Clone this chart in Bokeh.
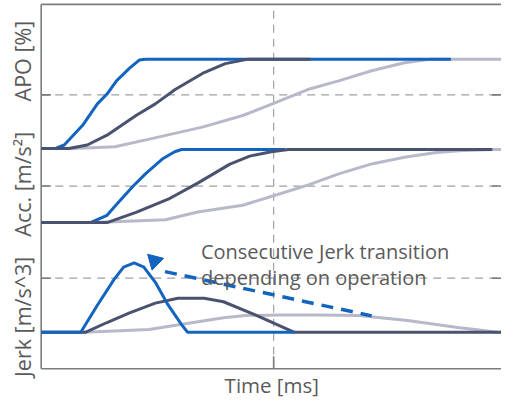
import math
from bokeh.plotting import figure
from bokeh.models import Range1d
from bokeh.core.properties import value
from bokeh.embed import file_html
from bokeh.resources import INLINE

# ---------------- data (time in % of window, values per panel) ----------------
# APO [%]
t_apo_blue = [0, 3, 5, 9, 12.2, 14.3, 16.4, 19.2, 21.3, 22.7, 89]
apo_blue = [0, 0, 4, 26, 50, 61, 76, 90, 99, 100, 100]
t_apo_dark = [0, 6, 10, 14.3, 20.6, 24.8, 29.1, 35.4, 40, 45, 58.5]
apo_dark = [0, 0, 4, 15, 37, 50, 66, 85, 95, 100, 100]
t_apo_gray = [0, 7, 16, 23, 35, 43.8, 50.5, 57.9, 64.8, 71.8, 78.9, 84.4, 100]
apo_gray = [0, 0, 2, 10, 24, 37, 50.5, 66, 76, 87, 96, 100, 100]

# Acc. [m/s^2] (relative %)
t_acc_blue = [0, 10.7, 14.3, 16.4, 20, 22.7, 26.3, 29, 30.5, 53]
acc_blue = [0, 0, 10, 25, 50, 67, 87, 97, 100, 100]
t_acc_dark = [0, 14.3, 20.6, 27.6, 34, 41, 45.3, 50, 53.7, 98]
acc_dark = [0, 0, 14, 32, 54, 80, 91, 97, 100, 100]
t_acc_gray = [0, 11.6, 27, 34, 43.8, 50.5, 57.9, 64.8, 71.8, 78.9, 85.9, 91.6, 98.5, 100]
acc_gray = [0, 0, 4, 14.5, 23.7, 36.8, 51.3, 67.1, 80.3, 89.5, 96, 98.7, 100, 100]

# Jerk [m/s^3]
t_jerk_blue = [0, 8.6, 12.2, 15.8, 17.9, 20.2, 22.3, 24.8, 27.6, 30.5, 31.8, 55]
jerk_blue = [0, 0, 3.9, 7.6, 9.4, 10, 9.4, 7.2, 3.9, 1.1, 0, 0]
t_jerk_dark = [0, 9.7, 14.3, 19.2, 24.8, 29.7, 35.4, 39.6, 46.5, 54.9, 100]
jerk_dark = [0, 0, 1.4, 2.8, 4.2, 4.9, 4.9, 4.4, 2.5, 0, 0]
t_jerk_gray = [0, 9.5, 23.4, 39.6, 44.4, 51.6, 60.6, 69, 79.6, 90.1, 99.2, 100]
jerk_gray = [0, 0, 0.4, 2.1, 2.4, 2.5, 2.5, 2.4, 1.7, 0.7, 0, 0]

# annotation arrow (jerk units)
t_arrow = [26.9, 71.8]
jerk_arrow = [8.75, 2.36]
t_head = [24.6]
jerk_head = [10.3]

annot_lines = ["Consecutive Jerk transition", "depending on operation"]
y_labels = ["APO [%]", "Acc. [m/s\u00b2]", "Jerk [m/s^3]"]
x_label = ["Time [ms]"]
t_mark = 50.5
grid_apo, grid_acc, grid_jerk = 60, 50, 7.8

# ---------------- styling / layout ----------------
BLUE = "#1364be"
DARK = "#4b5270"
GRAY = "#b7b9ca"
AXIS = "#7c7c7c"
GRID = "#a0a0a0"
TXT = "#5a5a5a"
FONT = "Open Sans"

# vertical layout in reference pixel units, measured upward from the frame bottom
APO_BASE, APO_SCALE = 229, 0.93
ACC_BASE, ACC_SCALE = 152, 0.76
JERK_BASE, JERK_SCALE = 38, 7.2
FRAME_TOP = 379


def tr(vals, base, scale):
    return [base + v * scale for v in vals]


W, H = 501, 399
REF_W, REF_H = 517, 415
REF_LEFT = 42                     # frame left in reference px
REF_PX = (REF_W - REF_LEFT) / 100.0   # reference px per time unit
XMIN = -REF_LEFT / REF_PX
XMAX = 100.0
YMAX = 383
YMIN = YMAX - REF_H

p = figure(width=W, height=H, output_backend="svg", toolbar_location=None,
           x_range=Range1d(XMIN, XMAX), y_range=Range1d(YMIN, YMAX),
           x_axis_location=None, y_axis_location=None,
           min_border=0)
p.outline_line_color = None
p.grid.visible = False
p.background_fill_color = "white"
p.border_fill_color = "white"

levels = [APO_BASE + grid_apo * APO_SCALE, ACC_BASE + grid_acc * ACC_SCALE,
          JERK_BASE + grid_jerk * JERK_SCALE]

# dashed guide lines
p.segment(x0=[0] * 3, x1=[XMAX] * 3, y0=levels, y1=levels,
          line_color=GRID, line_width=1.2, line_dash="8 6")
p.segment(x0=[t_mark], x1=[t_mark], y0=[0], y1=[FRAME_TOP],
          line_color=GRID, line_width=1.2, line_dash="8 6")

# frame: left, bottom, top
p.segment(x0=[0, 0, 0], x1=[0, XMAX, XMAX], y0=[0, 0, FRAME_TOP],
          y1=[FRAME_TOP, 0, FRAME_TOP], line_color=AXIS, line_width=1.6)
# ticks
tick_len = 10 / REF_PX
p.segment(x0=[0] * 3, x1=[tick_len] * 3, y0=levels, y1=levels,
          line_color=AXIS, line_width=1.6)
p.segment(x0=[XMAX - tick_len] * 3, x1=[XMAX] * 3, y0=levels, y1=levels,
          line_color=AXIS, line_width=1.6)
p.segment(x0=[t_mark], x1=[t_mark], y0=[0], y1=[13],
          line_color=AXIS, line_width=1.6)

LW = 3
# APO
p.line(t_apo_gray, tr(apo_gray, APO_BASE, APO_SCALE), line_color=GRAY, line_width=LW)
p.line(t_apo_blue, tr(apo_blue, APO_BASE, APO_SCALE), line_color=BLUE, line_width=LW)
p.line(t_apo_dark, tr(apo_dark, APO_BASE, APO_SCALE), line_color=DARK, line_width=LW)
# Acc
p.line(t_acc_gray, tr(acc_gray, ACC_BASE, ACC_SCALE), line_color=GRAY, line_width=LW)
p.line(t_acc_blue, tr(acc_blue, ACC_BASE, ACC_SCALE), line_color=BLUE, line_width=LW)
p.line(t_acc_dark, tr(acc_dark, ACC_BASE, ACC_SCALE), line_color=DARK, line_width=LW)
# Jerk
p.line(t_jerk_gray, tr(jerk_gray, JERK_BASE, JERK_SCALE), line_color=GRAY, line_width=LW)
p.line(t_jerk_dark, tr(jerk_dark, JERK_BASE, JERK_SCALE), line_color=DARK, line_width=LW)
p.line(t_jerk_blue, tr(jerk_blue, JERK_BASE, JERK_SCALE), line_color=BLUE, line_width=LW)

# arrow
p.line(t_arrow, tr(jerk_arrow, JERK_BASE, JERK_SCALE), line_color=BLUE,
       line_width=3.5, line_dash="12 8")
p.scatter(t_head, tr(jerk_head, JERK_BASE, JERK_SCALE), marker="inverted_triangle",
          size=16.5, angle=-0.25, color=BLUE)

p.text(x=[34.7, 34.7], y=tr([11.67, 7.92], JERK_BASE, JERK_SCALE), text=annot_lines,
       text_font=value(FONT), text_font_size="20px", text_color=TXT,
       text_baseline="alphabetic", text_align="left")

# axis titles
p.text(x=[-4.0] * 3, y=[320, 192, 54], text=y_labels, angle=math.pi / 2,
       text_font=value(FONT), text_font_size="21.5px", text_color=TXT,
       text_align="center", text_baseline="middle")
p.text(x=[50.1], y=[-17], text=x_label,
       text_font=value(FONT), text_font_size="20.5px", text_color=TXT,
       text_align="center", text_baseline="middle")

open("out.html", "w").write(file_html(p, INLINE))
